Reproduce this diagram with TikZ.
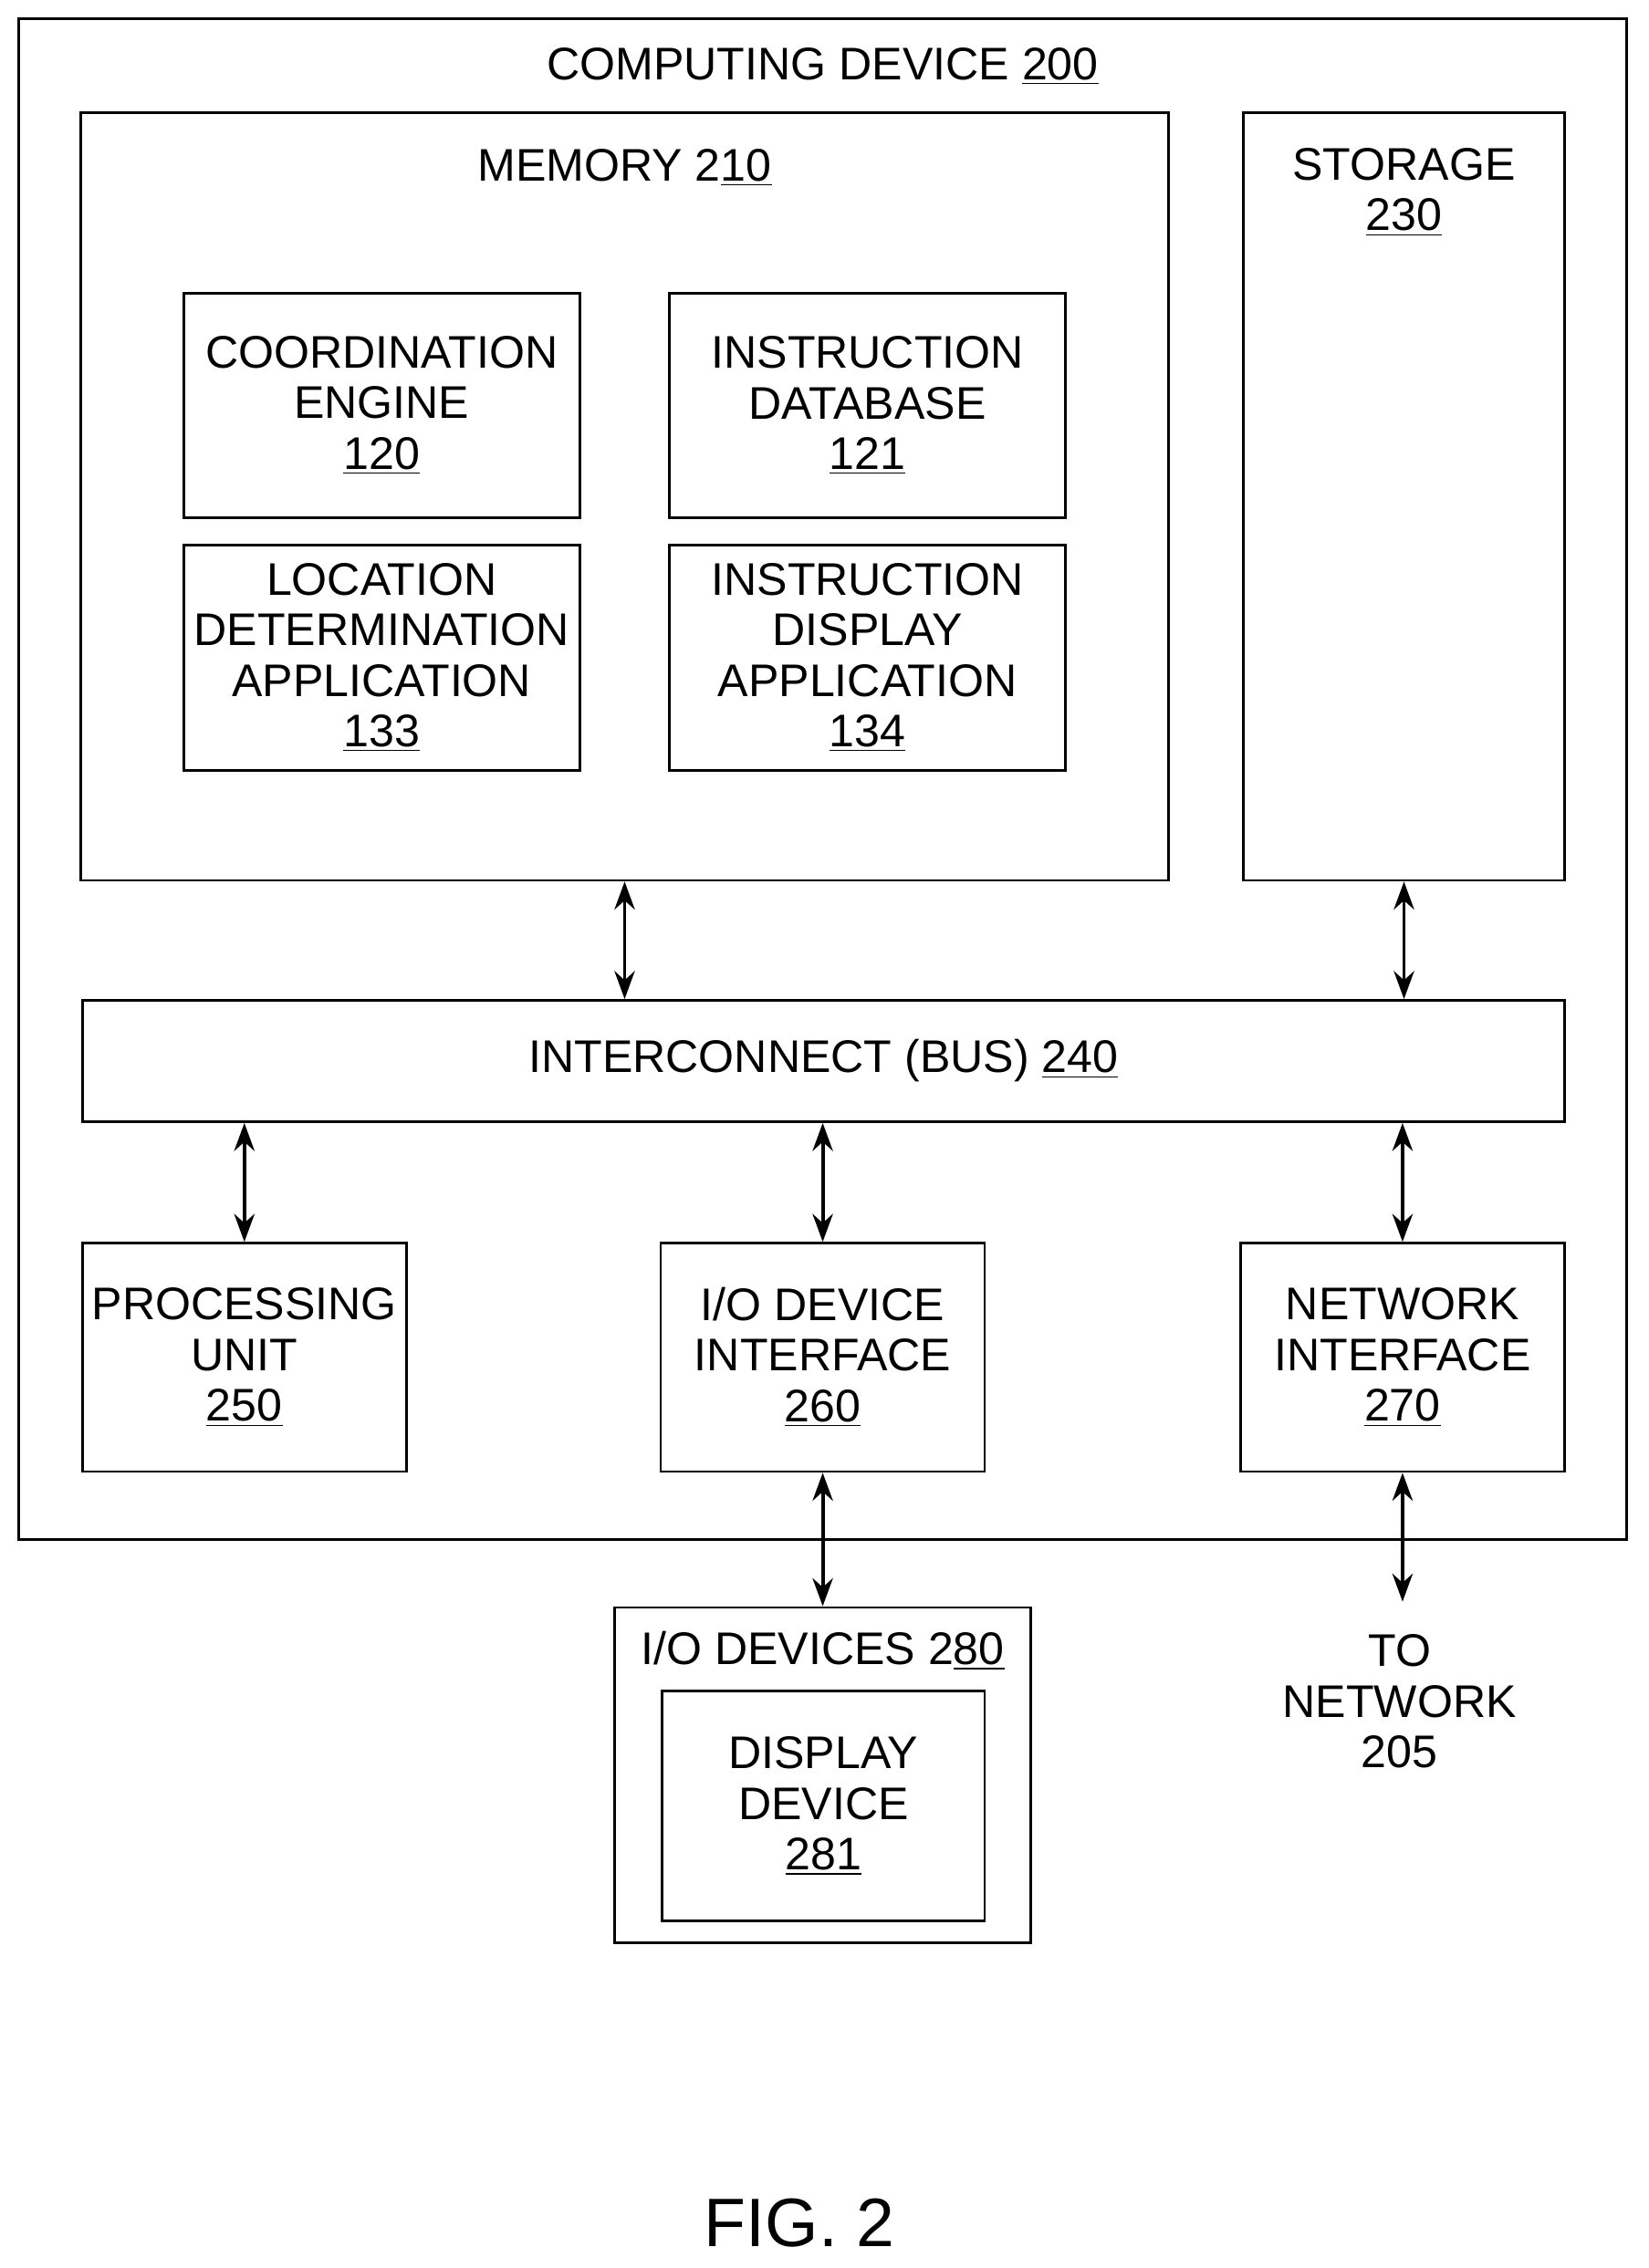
\documentclass[tikz,border=0pt]{standalone}
\usepackage{fontspec}
\setmainfont{Liberation Sans}
\usetikzlibrary{arrows.meta}
\tikzset{
  box/.style={draw, line width=1pt, inner sep=0pt, align=center, font=\fontsize{18}{19.9}\selectfont},
  lbl/.style={align=center, inner sep=0pt, font=\fontsize{18}{19.9}\selectfont},
  link/.style={{Stealth[length=11pt,width=8pt]}-{Stealth[length=11pt,width=8pt]}, line width=1.4pt}
}
\begin{document}
\begin{tikzpicture}[x=0.02cm,y=-0.02cm]
        \useasboundingbox (0,0) rectangle (1140,1569);
        % outer device
        \node[box, minimum width=1112*0.02cm, minimum height=1052*0.02cm] (device) at (569,539) {};
        \node[lbl] (devicelbl) at (569,46) {COMPUTING DEVICE \underline{200}};

        \node[box, minimum width=752*0.02cm, minimum height=531*0.02cm] (memory) at (432,343.5) {};
        \node[lbl] (memorylbl) at (432,116) {MEMORY 2\underline{10}};
        \node[box, minimum width=222*0.02cm, minimum height=531*0.02cm] (storage) at (971,343.5) {};
        \node[lbl] (storagelbl) at (971,133) {STORAGE\\\underline{230}};

        \node[box, minimum width=274*0.02cm, minimum height=155*0.02cm] (coord) at (264,280.5) {COORDINATION\\ENGINE\\\underline{120}};
        \node[box, minimum width=274*0.02cm, minimum height=155*0.02cm] (instrdb) at (600,280.5) {INSTRUCTION\\DATABASE\\\underline{121}};
        \node[box, minimum width=274*0.02cm, minimum height=156*0.02cm] (location) at (264,455) {LOCATION\\DETERMINATION\\APPLICATION\\\underline{133}};
        \node[box, minimum width=274*0.02cm, minimum height=156*0.02cm] (instrdisp) at (600,455) {INSTRUCTION\\DISPLAY\\APPLICATION\\\underline{134}};

        \node[box, minimum width=1025*0.02cm, minimum height=84*0.02cm] (bus) at (569.5,734) {INTERCONNECT (BUS) \underline{240}};

        \node[box, minimum width=224*0.02cm, minimum height=158*0.02cm] (proc) at (169,939) {PROCESSING\\UNIT\\\underline{250}};
        \node[box, minimum width=224*0.02cm, minimum height=158*0.02cm] (io) at (569,939) {I/O DEVICE\\INTERFACE\\\underline{260}};
        \node[box, minimum width=224*0.02cm, minimum height=158*0.02cm] (net) at (970,939) {NETWORK\\INTERFACE\\\underline{270}};

        \node[box, minimum width=288*0.02cm, minimum height=232*0.02cm] (iodevs) at (569,1228) {};
        \node[lbl] (iodevslbl) at (569,1142) {I/O DEVICES 2\underline{80}};
        \node[box, minimum width=223*0.02cm, minimum height=159*0.02cm] (display) at (569.5,1249.5) {DISPLAY\\DEVICE\\\underline{281}};

        \node[lbl] (tonet) at (968,1177) {TO\\NETWORK\\205};
        \coordinate (netend) at (968,1108);
        \node[inner sep=0pt, font=\fontsize{27}{30}\selectfont] (fig) at (553,1538) {FIG. 2};

        \draw[link] (memory.south) -- (bus.north -| memory.south);
        \draw[link] (storage.south) -- (bus.north -| storage.south);
        \draw[link] (bus.south -| proc.north) -- (proc.north);
        \draw[link] (bus.south -| io.north) -- (io.north);
        \draw[link] (bus.south -| net.north) -- (net.north);
        \draw[link] (io.south) -- (iodevs.north);
        \draw[link] (net.south) -- (netend -| net.south);
    \end{tikzpicture}
\end{document}
